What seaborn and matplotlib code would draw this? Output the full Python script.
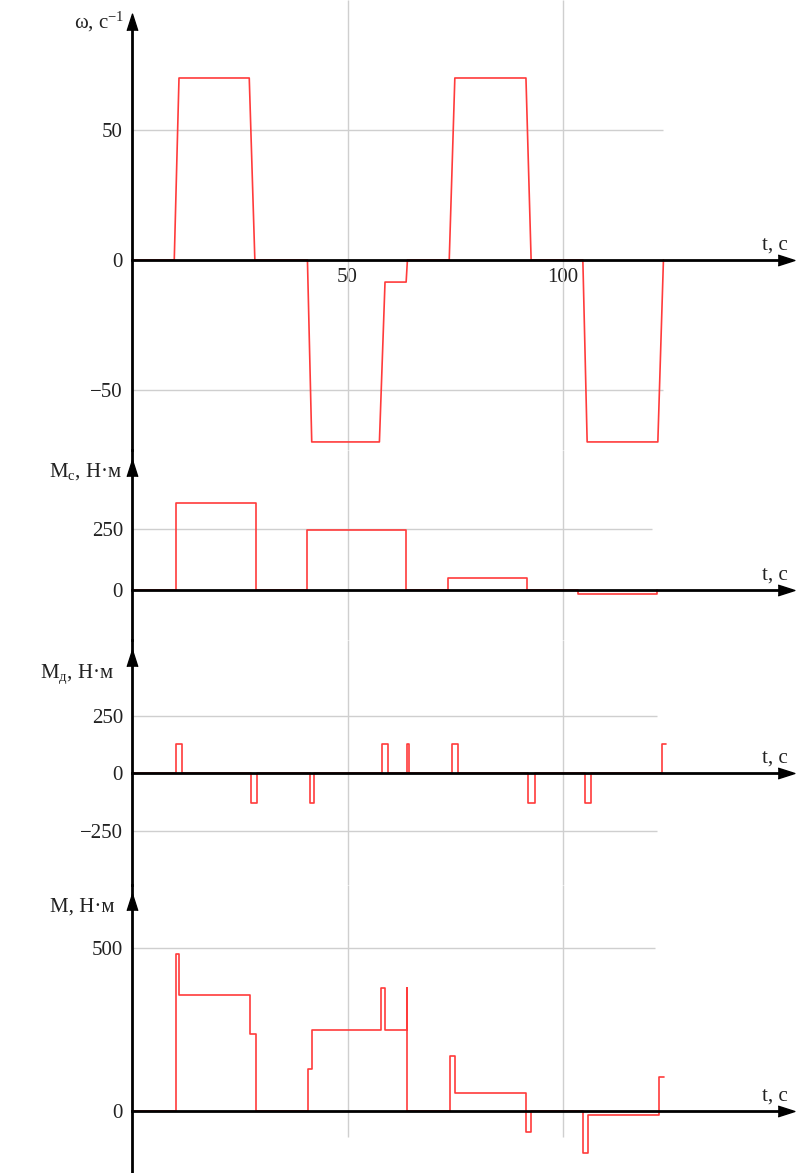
import numpy as np
import pandas as pd
import matplotlib.pyplot as plt
import seaborn as sns

# angular speed, c^-1 (ramps between levels)
T_W = [0, 9.8, 10.9, 27.2, 28.5, 40.7, 41.7, 57.4, 58.7, 63.6, 63.9,
       73.6, 74.9, 91.4, 92.6, 104.6, 105.6, 122.0, 123.3]
W = [0, 0, 70, 70, 0, 0, -70, -70, -8.5, -8.5, 0,
     0, 70, 70, 0, 0, -70, -70, 0]

# load torque Mc, N*m (step-post)
T_MC = [0, 10.3, 28.7, 40.6, 63.5, 73.4, 91.6, 103.5, 121.9]
MC = [0, 355, 0, 245, 0, 50, 0, -15, 0]

# dynamic torque Md, N*m (step-post)
T_MD = [0, 10.3, 11.5, 27.5, 29.0, 41.2, 42.2, 58.1, 59.3, 63.9, 64.2,
        74.2, 75.6, 91.9, 93.4, 105.0, 106.4, 123.0, 124.0]
MD = [0, 128, 0, -130, 0, -130, 0, 128, 0, 128, 0,
      128, 0, -130, 0, -130, 0, 128, 128]

# motor torque M, N*m (step-post)
T_M = [0, 10.1, 10.9, 27.4, 28.7, 40.8, 41.8, 57.7, 58.8, 63.7, 63.9,
       73.8, 75.0, 91.4, 92.6, 104.6, 105.9, 122.3, 123.4]
M = [0, 484, 356, 235, 0, 127, 250, 377, 250, 377, 0,
     168, 53, -66, 0, -131, -14, 103, 103]

GRID_T = [50, 100]

RED = "#ff3b3b"
GRID = "#cfcfcf"
UP = [(-0.32, -0.5), (0, 0.5), (0.32, -0.5)]
RIGHT = [(-0.5, -0.32), (0.5, 0), (-0.5, 0.32)]

sns.set_style("white")
plt.rcParams["font.family"] = ["Liberation Serif", "DejaVu Serif"]
plt.rcParams["mathtext.fontset"] = "custom"
plt.rcParams["mathtext.rm"] = "Liberation Serif"
plt.rcParams["mathtext.it"] = "Liberation Serif:italic"

FW, FH = 803, 1173
fig = plt.figure(figsize=(FW / 100, FH / 100), dpi=100)
T_LEFT, T_RIGHT = -30.63, 155.68
X_ARROW = 151.7


def draw_panel(px_top, px_bot, ylim, t, y, yticks, grid_end, arrow_y,
               steps=True, xticks=False, vgrid_bottom=None, top_spine=None):
    ax = fig.add_axes([0, 1 - px_bot / FH, 1, (px_bot - px_top) / FH])
    ax.patch.set_alpha(0)
    ax.set_xlim(T_LEFT, T_RIGHT)
    ax.set_ylim(*ylim)

    df = pd.DataFrame({"t": t, "v": y})
    kw = {"drawstyle": "steps-post"} if steps else {}
    sns.lineplot(data=df, x="t", y="v", ax=ax, estimator=None, sort=False,
                 color=RED, linewidth=1.2, zorder=3, **kw)
    ax.set_xlabel("")
    ax.set_ylabel("")

    for s in ["top", "right"]:
        ax.spines[s].set_visible(False)
    for s in ["left", "bottom"]:
        ax.spines[s].set_position(("data", 0))
        ax.spines[s].set_linewidth(2)
        ax.spines[s].set_color("black")
        ax.spines[s].set_zorder(4)
    ax.spines["bottom"].set_bounds(0, X_ARROW)
    if top_spine is not None:
        ax.spines["left"].set_bounds(ylim[0], top_spine)

    # grid lines
    ax.hlines([v for v in yticks if v != 0], 0, grid_end, color=GRID, lw=1, zorder=1)
    vb = ylim[0] if vgrid_bottom is None else vgrid_bottom
    ax.vlines(GRID_T, vb, ylim[1], color=GRID, lw=1, zorder=1)

    ax.set_yticks(yticks)
    ax.tick_params(axis="y", direction="inout", length=7, width=1.2, pad=3,
                   labelsize=15, colors="#222222")
    if xticks:
        ax.set_xticks(GRID_T)
        ax.tick_params(axis="x", direction="inout", length=5, width=1.2, pad=3,
                       labelsize=15, colors="#222222")
    else:
        ax.set_xticks([])

    ax.plot(0, arrow_y, marker=UP, ms=12, color="black", clip_on=False, zorder=6)
    ax.plot(X_ARROW, 0, marker=RIGHT, ms=12, color="black", clip_on=False, zorder=6)
    ax.annotate("t, с", xy=(X_ARROW + 0.5, 0), xytext=(0, 7.5), textcoords="offset points",
                ha="right", va="baseline", fontsize=15, color="#222222")
    return ax


ax1 = draw_panel(0, 450, (-73.1, 100), T_W, W, [-50, 0, 50], 123.2, 91.5,
                 steps=False, xticks=True, top_spine=91.5)
ax2 = draw_panel(450, 640, (-204.9, 573.8), T_MC, MC, [0, 250], 120.7, 500)
ax3 = draw_panel(640, 885, (-487.3, 581.6), T_MD, MD, [-250, 0, 250], 121.8, 503)
ax4 = draw_panel(885, 1173, (-191.8, 694.9), T_M, M, [0, 500], 121.3, 642.6,
                 vgrid_bottom=-81)

# axis titles, placed in pixel positions
def label(x_px, y_px, s):
    fig.text(x_px / FW, 1 - y_px / FH, s, ha="right", va="baseline",
             fontsize=15, color="#222222")


label(124, 28, r"ω, с$^{\mathregular{-1}}$")
label(122, 477, r"M$_{\mathregular{с}}$, Н·м")
label(114, 678, r"M$_{\mathregular{д}}$, Н·м")
label(114, 912, "M, Н·м")

fig.savefig("out.png", dpi=100)
